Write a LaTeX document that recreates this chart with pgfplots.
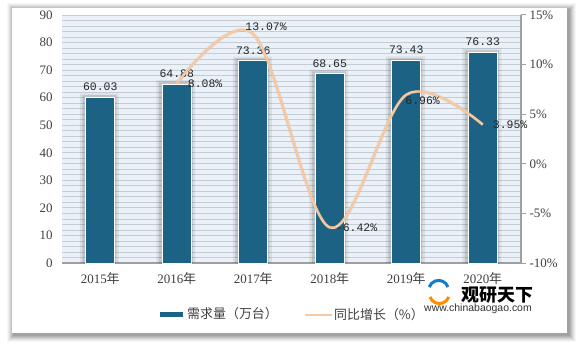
\documentclass[border=0pt]{standalone}
\usepackage{fontspec}
\setmainfont{Liberation Serif}
\newfontfamily\cjk{Noto Sans CJK SC}
\newfontfamily\mono{Liberation Mono}
\newfontfamily\sans{Liberation Sans}
\usepackage{pgfplots}
\pgfplotsset{compat=1.18}
\definecolor{barc}{RGB}{27,98,133}
\definecolor{linec}{RGB}{248,200,160}
\definecolor{bgc}{RGB}{235,241,248}
\definecolor{gridc}{RGB}{196,204,212}
\definecolor{axc}{RGB}{160,160,160}
\definecolor{txt}{RGB}{64,64,64}
\begin{document}
\begin{tikzpicture}
\begin{scope}[x=1bp,y=1bp]
\path[use as bounding box] (0,0) rectangle (587,351);
\fill[white] (0,0) rectangle (587,351);
% panel shadow
\foreach \i/\o in {7/0.03,6/0.04,5/0.05,4/0.06,3/0.07,2/0.08,1/0.09}{
  \fill[black,opacity=\o] (12-\i+2,18-\i-2) rectangle (567+\i+2,343+\i-2);
}
\fill[white] (12,18) rectangle (567,343);
\end{scope}

\begin{axis}[
  at={(62bp,88bp)}, anchor=south west,
  width=459bp, height=248bp, scale only axis,
  xmin=-0.5, xmax=5.5, ymin=0, ymax=90,
  ybar,
  axis background/.style={fill=bgc},
  axis x line*=bottom, axis y line*=left,
  y axis line style={draw=none},
  x axis line style={draw=axc, line width=1.3bp, -},
  major tick length=0pt, tick style={draw=none},
  xtick={0,1,2,3,4,5},
  xticklabels={2015{\cjk 年},2016{\cjk 年},2017{\cjk 年},2018{\cjk 年},2019{\cjk 年},2020{\cjk 年}},
  ytick={0,10,...,90},
  minor ytick={0,2,...,90},
  ymajorgrids, yminorgrids,
  major grid style={draw=gridc, line width=0.8bp},
  minor grid style={draw=gridc, line width=0.8bp},
  /pgf/number format/assume math mode=true,
  ticklabel style={font=\fontsize{13}{14}\selectfont, text=txt},
  xticklabel style={yshift=-6bp},
  yticklabel style={xshift=-6bp},
]
% soft shadow behind bars
\addplot[fill=black, draw=none, fill opacity=0.07, bar width=39bp, bar shift=-1bp] coordinates {(0,61.6)(1,66.45)(2,74.93)(3,70.22)(4,75.0)(5,77.9)};
\addplot[fill=black, draw=none, fill opacity=0.12, bar width=34bp, bar shift=-1bp] coordinates {(0,60.9)(1,65.75)(2,74.23)(3,69.52)(4,74.3)(5,77.2)};
\addplot[fill=barc, draw=white, line width=0.8bp, bar width=29bp, bar shift=0bp,
  nodes near coords={\pgfmathprintnumber[fixed,precision=2,fixed zerofill]{\pgfplotspointmeta}},
  every node near coord/.append style={font=\mono\fontsize{11.5}{12}\selectfont, text=black!85, anchor=south, yshift=3bp}]
  coordinates {(0,60.03)(1,64.88)(2,73.36)(3,68.65)(4,73.43)(5,76.33)};
\end{axis}

\begin{axis}[
  at={(62bp,88bp)}, anchor=south west,
  width=459bp, height=248bp, scale only axis, clip=false,
  xmin=-0.5, xmax=5.5, ymin=-10, ymax=15,
  axis x line=none, axis y line*=right,
  y axis line style={draw=axc, line width=1.2bp, -},
  ytick={-10,-5,...,15},
  tick align=outside, major tick length=5bp,
  ytick style={draw=axc, line width=1bp},
  /pgf/number format/assume math mode=true,
  yticklabel={\pgfmathprintnumber{\tick}\%},
  ticklabel style={font=\fontsize{13}{14}\selectfont, text=txt},
]
\addplot[smooth, tension=0.55, color=linec!80!black, line width=3.4bp, opacity=0.3] coordinates {(1,8.08)(2,13.07)(3,-6.42)(4,6.96)(5,3.95)};
\addplot[smooth, tension=0.55, color=linec, line width=2.4bp] coordinates {(1,8.08)(2,13.07)(3,-6.42)(4,6.96)(5,3.95)};
\begin{scope}[every node/.style={font=\mono\fontsize{11.5}{12}\selectfont, text=black!85, inner sep=1bp}]
\node[anchor=west, xshift=10bp] at (axis cs:1,8.08) {8.08\%};
\node[anchor=south west, xshift=-9bp, yshift=2bp] at (axis cs:2,13.07) {13.07\%};
\node[anchor=west, xshift=5bp] at (axis cs:3,-6.42) {-6.42\%};
\node[anchor=north west, xshift=-2bp, yshift=-1bp] at (axis cs:4,6.96) {6.96\%};
\node[anchor=west, xshift=9bp] at (axis cs:5,3.95) {3.95\%};
\end{scope}
\end{axis}

\begin{scope}[x=1bp,y=1bp]
% legend
\fill[barc] (160,351-316.5) rectangle (183,351-311.5);
\node[anchor=west, inner sep=0, text=txt] at (187,351-314) {\cjk\fontsize{13}{14}\selectfont 需求量（万台）};
\draw[linec, line width=2.4bp] (305,351-315) -- (332,351-315);
\node[anchor=west, inner sep=0, text=txt] at (334,351-315) {\cjk\fontsize{13}{14}\selectfont 同比增长（\%）};
% watermark
\draw[orange!90!yellow, line width=3bp] (430,351-297) arc[start angle=200, end angle=340, radius=10];
\draw[cyan!60!blue, line width=3bp] (448,351-287) arc[start angle=20, end angle=160, radius=10];
\node[anchor=west, inner sep=0] at (461,351-295) {\cjk\bfseries\fontsize{18}{19}\selectfont 观研天下};
\node[anchor=west, inner sep=0, text=black!80] at (424,351-309) {\sans\fontsize{10.5}{11}\selectfont www.chinabaogao.com};
\end{scope}
\end{tikzpicture}
\end{document}
